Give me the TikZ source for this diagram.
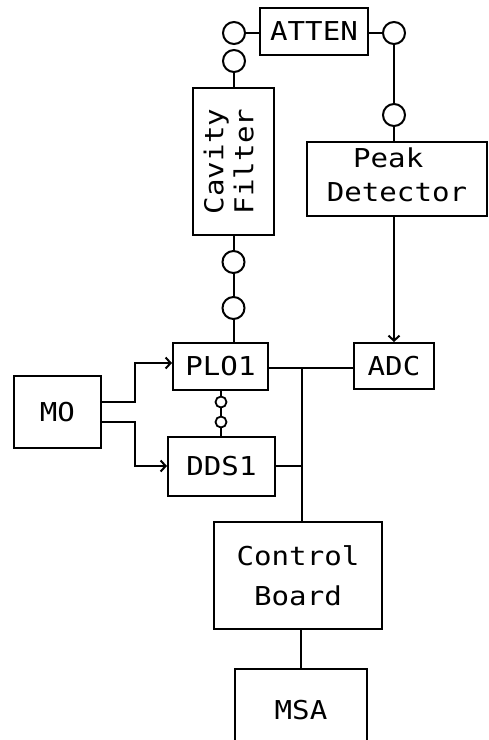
\documentclass[tikz,border=0pt]{standalone}
\usepackage{fontspec}
\usetikzlibrary{arrows.meta}
\newfontfamily\monofam[FakeStretch=1.12]{DejaVu Sans Mono}
\begin{document}
\begin{tikzpicture}[x=1pt,y=-1pt,
  blk/.style={draw, line width=2pt, inner sep=0pt, align=center,
    font=\monofam\fontsize{26}{36}\selectfont},
  port/.style={draw, circle, line width=2pt, minimum size=22pt, inner sep=0pt},
  sport/.style={draw, circle, line width=1.8pt, minimum size=11pt, inner sep=0pt},
  conn/.style={line width=2pt},
  arr/.style={line width=2pt, -{Straight Barb[length=5pt,width=11pt]}}]
\clip (0,0) rectangle (488,740);
\fill[white] (0,0) rectangle (488,740);
% blocks
\node[blk, minimum width=108pt, minimum height=47pt] (atten) at (314,31) {ATTEN};
\node[blk, rotate=90, minimum width=147pt, minimum height=81pt] (cavity) at (233.5,161.5) {Cavity\\[-6pt]Filter\rule[-10pt]{0pt}{10pt}};
\node[blk, minimum width=180pt, minimum height=74pt] (peak) at (397,179) {Peak\phantom{X}\\[-2pt]Detector\rule[-8pt]{0pt}{8pt}};
\node[blk, minimum width=95pt, minimum height=47pt] (plo) at (220.5,366) {PLO1};
\node[blk, minimum width=80pt, minimum height=46pt] (adc) at (394,366) {ADC};
\node[blk, minimum width=87pt, minimum height=72pt] (mo) at (57.5,412) {MO};
\node[blk, minimum width=107pt, minimum height=59pt] (dds) at (221.5,466) {DDS1};
\node[blk, minimum width=168pt, minimum height=107pt] (ctrl) at (298,575.5) {Control\\[4pt]Board};
\node[blk, minimum width=132pt, minimum height=82pt] (msa) at (301,710) {MSA};
% ports
\node[port] (c1) at (234,33) {};
\node[port] (c2) at (234,61) {};
\node[port] (c3) at (394,33) {};
\node[port] (c6) at (394,115) {};
\node[port] (c4) at (233.5,262) {};
\node[port] (c5) at (233.5,308) {};
\node[sport] (s1) at (221,402) {};
\node[sport] (s2) at (221,422) {};
\coordinate (bus) at (302,368);
% connectors
\draw[conn] (c1.east) -- (c1.east -| atten.west);
\draw[conn] (atten.east |- c3.west) -- (c3.west);
\draw[conn] (c2.south) -- (c2.south |- cavity.east);
\draw[conn] (c4.north |- cavity.west) -- (c4.north);
\draw[conn] (c4.south) -- (c5.north);
\draw[conn] (c5.south) -- (c5.south |- plo.north);
\draw[conn] (c3.south) -- (c6.north);
\draw[conn] (c6.south) -- (c6.south |- peak.north);
\draw[arr] (adc.north |- peak.south) -- (adc.north);
\draw[conn] (adc.west |- bus) -- (bus -| plo.east);
\draw[conn] (bus) -- (bus |- ctrl.north);
\draw[conn] (dds.east) -- (dds.east -| bus);
\draw[conn] (msa.north |- ctrl.south) -- (msa.north);
\draw[conn] (s1.north |- plo.south) -- (s1.north);
\draw[conn] (s1.south) -- (s2.north);
\draw[conn] (s2.south) -- (s2.south |- dds.north);
\draw[arr] ([yshift=10pt]mo.east) -- ++(33,0) |- ([yshift=3pt]plo.west);
\draw[arr] ([yshift=-10pt]mo.east) -- ++(33,0) |- (dds.west);
\end{tikzpicture}
\end{document}
